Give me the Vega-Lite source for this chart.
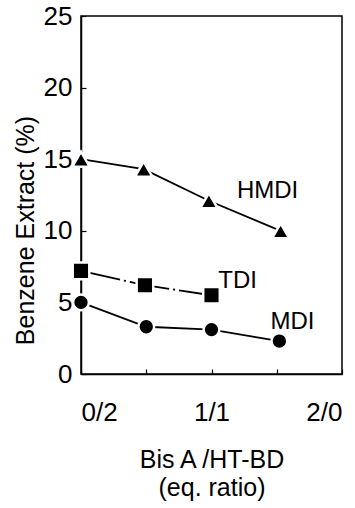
{
  "$schema": "https://vega.github.io/schema/vega-lite/v6.json",
  "width": 261,
  "height": 358,
  "autosize": {"type": "none"},
  "padding": {"left": 81, "top": 16, "right": 13, "bottom": 134},
  "background": "white",
  "config": {
    "font": "Liberation Sans",
    "view": {"stroke": "black", "strokeWidth": 1.5},
    "axis": {"grid": false, "domainColor": "black", "domainWidth": 1.5, "tickColor": "black", "tickWidth": 1.2, "labelColor": "black", "titleColor": "black", "titleFontWeight": "normal"}
  },
  "datasets": {
    "pts": [
      {"series": "HMDI", "x": 0, "y": 15.0},
      {"series": "HMDI", "x": 0.48, "y": 14.3},
      {"series": "HMDI", "x": 0.98, "y": 12.1},
      {"series": "HMDI", "x": 1.53, "y": 10.0},
      {"series": "TDI", "x": 0, "y": 7.2},
      {"series": "TDI", "x": 0.49, "y": 6.2},
      {"series": "TDI", "x": 1.0, "y": 5.5},
      {"series": "MDI", "x": 0, "y": 5.0},
      {"series": "MDI", "x": 0.5, "y": 3.3},
      {"series": "MDI", "x": 1.0, "y": 3.1},
      {"series": "MDI", "x": 1.52, "y": 2.3}
    ],
    "labels": [
      {"series": "HMDI", "x": 1.43, "y": 12.8},
      {"series": "TDI", "x": 1.2, "y": 6.5},
      {"series": "MDI", "x": 1.62, "y": 3.6}
    ]
  },
  "layer": [
    {
      "data": {"name": "pts"},
      "transform": [{"filter": "datum.series !== 'TDI'"}],
      "mark": {"type": "line", "color": "black", "strokeWidth": 1.8},
      "encoding": {
        "x": {"field": "x", "type": "quantitative", "scale": {"domain": [0, 2], "nice": false},
          "axis": {"values": [0, 0.5, 1, 1.5, 2], "tickSize": -5, "labelPadding": 30, "labelFontSize": 26,
            "labelExpr": "datum.value == 0 ? '0/2' : datum.value == 1 ? '1/1' : datum.value == 2 ? '2/0' : ''",
            "title": ["Bis A /HT-BD", "(eq. ratio)"], "titleFontSize": 25, "titleLineHeight": 28, "titlePadding": 22}},
        "y": {"field": "y", "type": "quantitative", "scale": {"domain": [0, 25], "nice": false},
          "axis": {"values": [0, 5, 10, 15, 20, 25], "tickSize": -5, "labelPadding": 14, "labelFontSize": 26,
            "title": "Benzene Extract (%)", "titleFontSize": 25, "titleAngle": -90, "titleX": -56, "titleY": 214, "titleAlign": "center", "titleBaseline": "middle"}},
        "detail": {"field": "series"}
      }
    },
    {
      "data": {"name": "pts"},
      "transform": [{"filter": "datum.series === 'TDI'"}],
      "mark": {"type": "line", "color": "black", "strokeWidth": 1.8, "strokeDash": [40, 4, 2, 4]},
      "encoding": {
        "x": {"field": "x", "type": "quantitative"},
        "y": {"field": "y", "type": "quantitative"}
      }
    },
    {
      "data": {"name": "pts"},
      "mark": {"type": "point", "filled": true, "color": "black", "stroke": "white", "strokeWidth": 2.5, "opacity": 1},
      "encoding": {
        "x": {"field": "x", "type": "quantitative"},
        "y": {"field": "y", "type": "quantitative"},
        "shape": {"field": "series", "type": "nominal", "legend": null,
          "scale": {"domain": ["HMDI", "TDI", "MDI"], "range": ["triangle-up", "square", "circle"]}},
        "size": {"field": "series", "type": "nominal", "legend": null,
          "scale": {"domain": ["HMDI", "TDI", "MDI"], "range": [300, 250, 350]}}
      }
    },
    {
      "data": {"name": "labels"},
      "mark": {"type": "text", "fontSize": 24, "color": "black", "align": "center", "baseline": "middle"},
      "encoding": {
        "x": {"field": "x", "type": "quantitative"},
        "y": {"field": "y", "type": "quantitative"},
        "text": {"field": "series"}
      }
    }
  ]
}
